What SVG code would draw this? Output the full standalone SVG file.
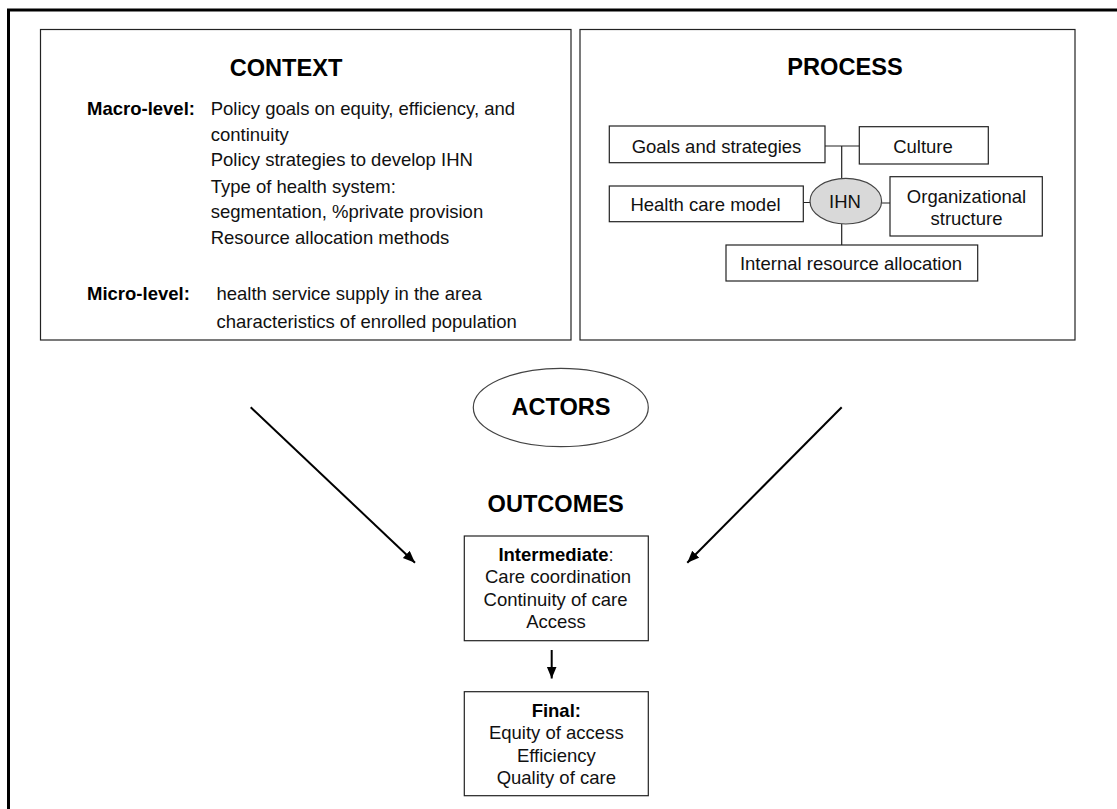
<svg xmlns="http://www.w3.org/2000/svg" width="1117" height="809" viewBox="0 0 1117 809">
<style>
  text { font-family: "Liberation Sans", Arial, sans-serif; fill: #111; }
  .t { font-size: 18.5px; }
  .b { font-weight: bold; fill: #000; }
  .h { font-size: 23.6px; font-weight: bold; fill: #000; }
  .box { fill: #fff; stroke: #222; stroke-width: 1.2; }
  .c { text-anchor: middle; }
  .ln { stroke: #222; stroke-width: 1.2; fill: none; }
  .arr { stroke: #000; stroke-width: 2; fill: none; marker-end: url(#ah); }
</style>
<defs>
  <marker id="ah" markerUnits="userSpaceOnUse" markerWidth="14" markerHeight="12" refX="12" refY="5" orient="auto">
    <path d="M0,0 L12,5 L0,10 z" fill="#000"/>
  </marker>
</defs>
<rect width="1117" height="809" fill="#fff"/>
<path id="frame" d="M8.5,809 V10 H1117" fill="none" stroke="#000" stroke-width="3"/>

<g id="context">
  <rect class="box" x="40.5" y="29.5" width="530.5" height="310.5"/>
  <text class="h c" x="286" y="76">CONTEXT</text>
  <text class="t b" x="87" y="115">Macro-level:</text>
  <text class="t" x="210.7" y="115">Policy goals on equity, efficiency, and</text>
  <text class="t" x="210.7" y="140.7">continuity</text>
  <text class="t" x="210.7" y="166">Policy strategies to develop IHN</text>
  <text class="t" x="210.7" y="192.7">Type of health system:</text>
  <text class="t" x="210.7" y="218.3">segmentation, %private provision</text>
  <text class="t" x="210.7" y="244.3">Resource allocation methods</text>
  <text class="t b" x="87" y="300">Micro-level:</text>
  <text class="t" x="216.5" y="300">health service supply in the area</text>
  <text class="t" x="216.5" y="328">characteristics of enrolled population</text>
</g>

<g id="process">
  <rect class="box" x="580" y="29.5" width="495" height="310.5"/>
  <text class="h c" x="845" y="75">PROCESS</text>
</g>

<g id="connectors">
  <path class="ln" d="M825,146 H859.3 M841.7,146 V178.3 M803.3,202.5 H810 M881.7,203 H890 M841.7,224 V245"/>
  <line class="arr" x1="250.7" y1="407.3" x2="415" y2="562.7"/>
  <line class="arr" x1="841.7" y1="407.3" x2="687.3" y2="562.7"/>
  <line class="arr" x1="551.7" y1="650" x2="551.7" y2="678.5"/>
</g>

<g id="goals">
  <rect class="box" x="609.3" y="126" width="215.7" height="36.7"/>
  <text class="t c" x="716.5" y="152.5">Goals and strategies</text>
</g>
<g id="culture">
  <rect class="box" x="859.3" y="126.7" width="129" height="37.3"/>
  <text class="t c" x="923" y="153.3">Culture</text>
</g>
<g id="healthcare">
  <rect class="box" x="609.3" y="186" width="194" height="35.7"/>
  <text class="t c" x="705.5" y="210.7">Health care model</text>
</g>
<g id="ihn">
  <ellipse cx="845.8" cy="201.2" rx="35.8" ry="22.8" fill="#d9d9d9" stroke="#444" stroke-width="1.2"/>
  <text class="t c" x="845" y="208.3">IHN</text>
</g>
<g id="orgstructure">
  <rect class="box" x="890" y="176.7" width="152.3" height="59.3"/>
  <text class="t c" x="966.5" y="202.7">Organizational</text>
  <text class="t c" x="966.5" y="224.5">structure</text>
</g>
<g id="internal">
  <rect class="box" x="726" y="245" width="251.7" height="36"/>
  <text class="t c" x="851" y="270">Internal resource allocation</text>
</g>

<g id="actors">
  <ellipse cx="560.8" cy="407.5" rx="87.5" ry="39.2" fill="#fff" stroke="#444" stroke-width="1.2"/>
  <text class="h c" x="561" y="415">ACTORS</text>
</g>

<g id="outcomes">
  <text class="h c" x="555.7" y="511.7">OUTCOMES</text>
</g>

<g id="intermediate">
  <rect class="box" x="464.3" y="536" width="184" height="104.7"/>
  <text class="t c" x="556" y="560.7"><tspan class="b">Intermediate</tspan>:</text>
  <text class="t c" x="558" y="583.3">Care coordination</text>
  <text class="t c" x="555.5" y="605.7">Continuity of care</text>
  <text class="t c" x="556" y="628.3">Access</text>
</g>

<g id="final">
  <rect class="box" x="464.3" y="691.7" width="184" height="104"/>
  <text class="t b c" x="556.3" y="716.7">Final:</text>
  <text class="t c" x="556.3" y="739">Equity of access</text>
  <text class="t c" x="556.3" y="761.7">Efficiency</text>
  <text class="t c" x="556.3" y="784.3">Quality of care</text>
</g>
</svg>
